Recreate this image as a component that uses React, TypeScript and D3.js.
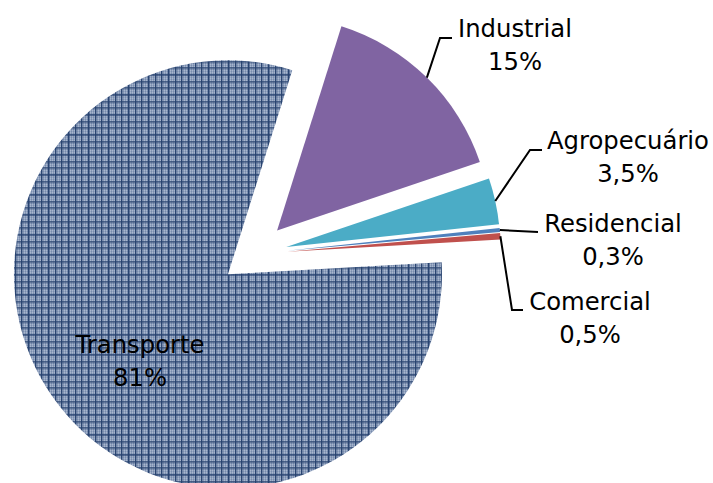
import React from "react";
import * as d3 from "d3";

const categories = ["Industrial", "Agropecuário", "Residencial", "Comercial", "Transporte"];
const values = [15, 3.5, 0.3, 0.5, 81];
const percentLabels = ["15%", "3,5%", "0,3%", "0,5%", "81%"];
const colors = ["#8064a2", "#4bacc6", "#4f81bd", "#c0504d", "url(#hatch)"];

const W = 713;
const H = 483;
const CX = 254;
const CY = 254;
const R = 214;
const EXPLODE = 33;
const START_DEG = 17.5;

// label layout: [centerX, firstBaseline]
const labelPos: [number, number][] = [
  [515, 37],
  [628, 149],
  [613, 232],
  [590, 310],
  [140, 353],
];
// leader line path after slice edge point
const leaderPts: [number, number][][] = [
  [[440, 38], [452, 38]],
  [[530, 150], [542, 150]],
  [[538, 232]],
  [[512, 310], [523, 310]],
  [],
];

export default function App() {
  const pie = d3
    .pie<number>()
    .sort(null)
    .value((d) => d)
    .startAngle((START_DEG * Math.PI) / 180)
    .endAngle((START_DEG * Math.PI) / 180 + 2 * Math.PI);
  const arcs = pie(values);
  const arcGen = d3.arc<d3.PieArcDatum<number>>().innerRadius(0).outerRadius(R);

  return (
    <div style={{ position: "fixed", left: 0, top: 0, width: W, height: H, background: "#fff" }}>
      <svg width={W} height={H} style={{ display: "block" }}>
        <defs>
          <pattern id="dots" width={2} height={2} patternUnits="userSpaceOnUse">
            <rect width={2} height={2} fill="#8fa0bd" />
            <rect x={0} y={0} width={1} height={1} fill="#b3c0d5" />
            <rect x={1} y={1} width={1} height={1} fill="#6c81a6" />
          </pattern>
          <pattern id="hatch" width={20} height={20} patternUnits="userSpaceOnUse">
            <rect width={20} height={20} fill="url(#dots)" />
            {[0, 7, 13].map((p) => (
              <g key={p}>
                <rect x={p} y={0} width={1.4} height={20} fill="#27426f" />
                <rect x={0} y={p} width={20} height={1.4} fill="#27426f" />
              </g>
            ))}
          </pattern>
        </defs>
        {arcs.map((a, i) => {
          const mid = (a.startAngle + a.endAngle) / 2;
          const ox = CX + EXPLODE * Math.sin(mid);
          const oy = CY - EXPLODE * Math.cos(mid);
          return (
            <path
              key={categories[i]}
              d={arcGen(a) || ""}
              transform={`translate(${ox},${oy})`}
              fill={colors[i]}
            />
          );
        })}
        {arcs.map((a, i) => {
          const pts = leaderPts[i];
          if (!pts.length) return null;
          const mid = (a.startAngle + a.endAngle) / 2;
          const ox = CX + EXPLODE * Math.sin(mid);
          const oy = CY - EXPLODE * Math.cos(mid);
          const sx = ox + R * Math.sin(mid);
          const sy = oy - R * Math.cos(mid);
          const line = d3.line()([[sx, sy], ...pts] as [number, number][]);
          return (
            <path key={"l" + i} d={line || ""} fill="none" stroke="#000" strokeWidth={2} />
          );
        })}
        {categories.map((c, i) => (
          <text
            key={"t" + c}
            x={labelPos[i][0]}
            y={labelPos[i][1]}
            textAnchor="middle"
            fontFamily="DejaVu Sans, sans-serif"
            fontSize={24.3}
            fill="#000"
          >
            <tspan x={labelPos[i][0]}>{c}</tspan>
            <tspan x={labelPos[i][0]} dy={32.5}>
              {percentLabels[i]}
            </tspan>
          </text>
        ))}
      </svg>
    </div>
  );
}
